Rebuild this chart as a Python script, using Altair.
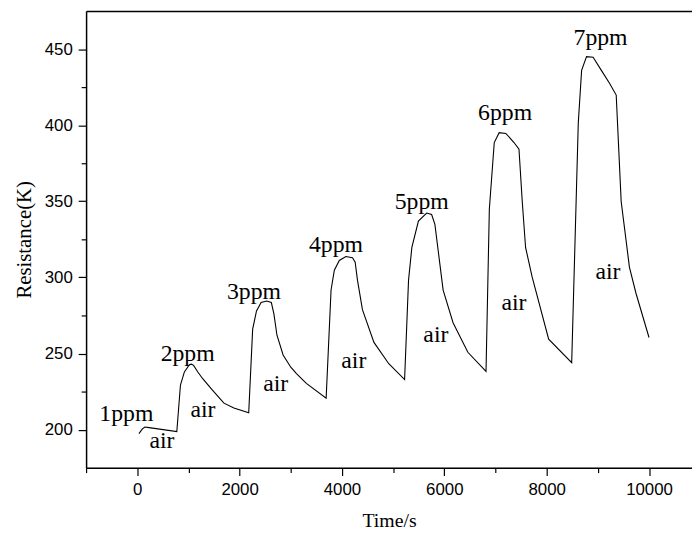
import altair as alt
import pandas as pd

# Curve (Time/s, Resistance K)
time_s = [33, 100, 150, 232, 773,
          844, 921, 1018, 1060, 1101, 1180, 1275, 1469, 1694, 1888, 2178,
          2255, 2330, 2420, 2530, 2620, 2670, 2730, 2850, 3000, 3111, 3304, 3691,
          3787, 3851, 3948, 4077, 4206, 4258, 4303, 4400, 4625, 4915, 5224,
          5301, 5366, 5494, 5655, 5752, 5816, 5977, 6171, 6460, 6815,
          6880, 6976, 7072, 7202, 7362, 7459, 7523, 7588, 7716, 8039, 8489,
          8618, 8683, 8779, 8908, 9069, 9231, 9359, 9456, 9617, 9745, 10000]
resistance = [197.4, 200.5, 201.7, 201.3, 198.7,
              229.3, 237.9, 242.6, 243.0, 242.2, 238.0, 233.6, 226.0, 217.4, 214.2, 211.0,
              266.0, 278.0, 283.5, 284.5, 283.5, 276.0, 262.0, 249.0, 241.0, 236.8, 230.4, 220.7,
              291.7, 304.7, 311.1, 313.7, 312.9, 310.0, 298.2, 278.8, 257.3, 243.3, 232.9,
              298.2, 319.7, 337.0, 342.3, 341.3, 334.8, 291.7, 270.2, 250.8, 238.3,
              345.0, 388.6, 395.1, 394.6, 388.6, 384.3, 349.9, 319.7, 300.3, 259.4, 244.0,
              401.6, 436.0, 445.0, 444.6, 436.0, 427.4, 419.8, 349.9, 306.8, 289.6, 260.5]

# Annotations
ann_text = ["1ppm", "air", "2ppm", "air", "3ppm", "air", "4ppm", "air",
            "5ppm", "air", "6ppm", "air", "7ppm", "air"]
ann_x = [-213, 483, 985, 1285, 2280, 2705, 3884, 4232, 5559, 5835, 7188, 7362, 9053, 9198]
ann_y = [210.3, 192.2, 249.4, 212.6, 290.4, 229.9, 321.4, 244.9, 349.3, 262.0, 408.0, 283.3, 457.5, 303.5]

x_major = [0, 2000, 4000, 6000, 8000, 10000]
x_minor = [-1000, 1000, 3000, 5000, 7000, 9000]
y_major = [200, 250, 300, 350, 400, 450]
y_minor = [225, 275, 325, 375, 425]

X_DOMAIN = [-1000, 10840]
Y_DOMAIN = [175, 475]

curve = pd.DataFrame({"t": time_s, "r": resistance})
ann = pd.DataFrame({"label": ann_text, "t": ann_x, "r": ann_y})

xs = alt.Scale(domain=X_DOMAIN, nice=False, zero=False)
ys = alt.Scale(domain=Y_DOMAIN, nice=False, zero=False)

line = alt.Chart(curve).mark_line(color="black", strokeWidth=1.1).encode(
    x=alt.X("t:Q", scale=xs, axis=alt.Axis(
        orient="bottom", values=x_major, title="Time/s", format="d",
        tickSize=8, labelPadding=6, titlePadding=14, grid=False,
        labelFont="Liberation Sans", labelFontSize=17, labelColor="black",
        titleFont="Liberation Serif", titleFontSize=20, titleFontWeight="normal",
        titleColor="black", domainColor="black", tickColor="black",
        domainWidth=1.5, tickWidth=1.2)),
    y=alt.Y("r:Q", scale=ys, axis=alt.Axis(
        orient="left", values=y_major, title="Resistance(K)",
        tickSize=8, labelPadding=6, titlePadding=10, grid=False,
        labelFont="Liberation Sans", labelFontSize=17, labelColor="black",
        titleFont="Liberation Serif", titleFontSize=21, titleFontWeight="normal",
        titleColor="black", domainColor="black", tickColor="black",
        domainWidth=1.5, tickWidth=1.2)),
    order="t:Q",
)

minor = alt.Chart(curve).mark_line(opacity=0).encode(
    x=alt.X("t:Q", scale=xs, axis=alt.Axis(
        orient="bottom", values=x_minor, labels=False, title=None, domain=False,
        tickSize=5, grid=False, tickColor="black", tickWidth=1.2)),
    y=alt.Y("r:Q", scale=ys, axis=alt.Axis(
        orient="left", values=y_minor, labels=False, title=None, domain=False,
        tickSize=5, grid=False, tickColor="black", tickWidth=1.2)),
)

text = alt.Chart(ann).mark_text(
    font="Liberation Serif", fontSize=24, color="black", baseline="middle", align="center"
).encode(
    x=alt.X("t:Q", scale=xs, axis=alt.Axis(
        orient="top", labels=False, ticks=False, title=None, grid=False,
        domainColor="black", domainWidth=1.5)),
    y=alt.Y("r:Q", scale=ys, axis=None),
    text="label:N",
)

chart = alt.layer(line, minor, text).resolve_axis(
    x="independent", y="independent"
).properties(
    width=613, height=462,
    autosize=alt.AutoSizeParams(type="none"),
    padding={"left": 79, "top": 0, "right": 0, "bottom": 60},
).configure_view(stroke=None).configure(background="white")

chart.save("out.html", embed_options={"renderer": "svg", "actions": False})
